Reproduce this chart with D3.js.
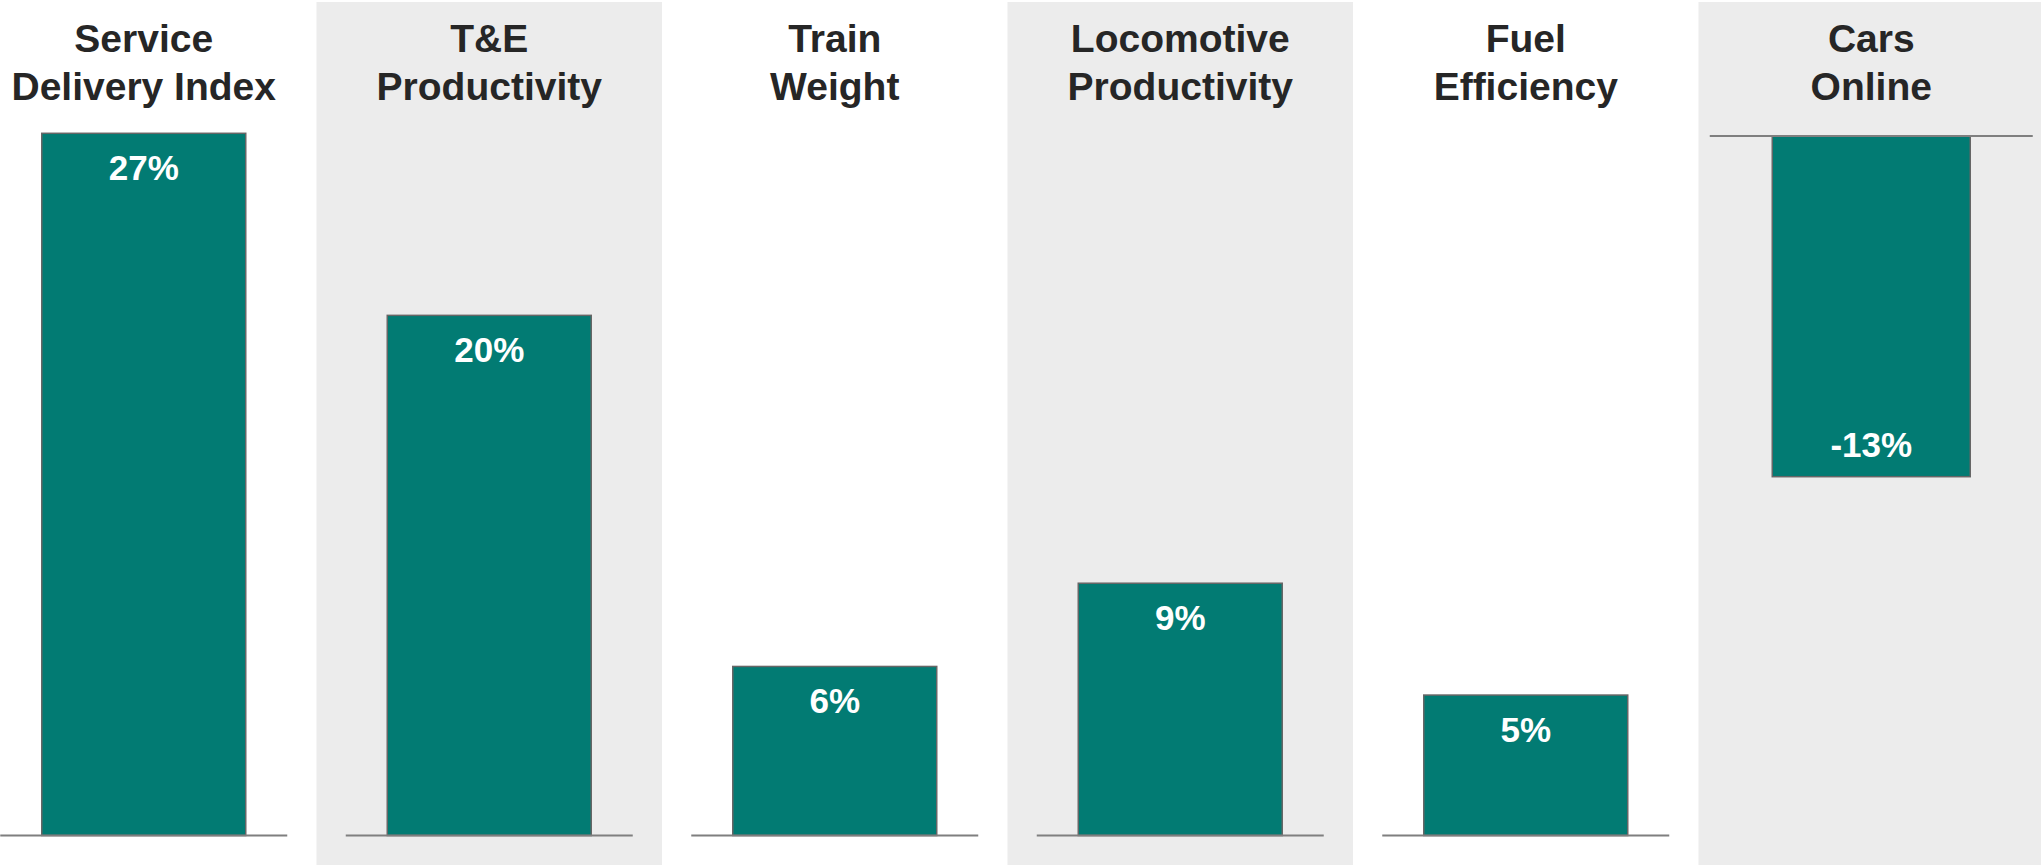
<!DOCTYPE html>
<html>
<head>
<meta charset="utf-8">
<script src="https://cdn.jsdelivr.net/npm/d3@7"></script>
<style>
  body { margin: 0; background: #fff; }
  text { font-family: "Liberation Sans", Arial, sans-serif; font-weight: bold; }
</style>
</head>
<body>
<div id="chart"></div>
<script>
const categories = ['Service Delivery Index', 'T&E Productivity', 'Train Weight',
  'Locomotive Productivity', 'Fuel Efficiency', 'Cars Online'];
const titleLines = [
  ['Service', 'Delivery Index'],
  ['T&E', 'Productivity'],
  ['Train', 'Weight'],
  ['Locomotive', 'Productivity'],
  ['Fuel', 'Efficiency'],
  ['Cars', 'Online']
];
const values = [27, 20, 6.5, 9.7, 5.4, -13.1];
const labels = ['27%', '20%', '6%', '9%', '5%', '-13%'];

const width = 2041;
const height = 865;
const teal = '#027b73';

const svg = d3.select('#chart')
  .append('svg')
  .attr('width', width)
  .attr('height', height);

// one column per metric, every other one shaded
const panelX = d3.scaleBand()
  .domain(categories)
  .range([-29, -29 + 6 * 345.5]);

// positive panels share a baseline at the bottom
const yPos = d3.scaleLinear().domain([0, 27]).range([835.5, 133.3]);
const pxPerPct = (yPos(0) - yPos(27)) / 27;
// the negative panel hangs from a line near the top
const yNeg = d3.scaleLinear().domain([0, -13.1]).range([136, 136 + 13.1 * pxPerPct]);

const panels = svg.selectAll('.panel')
  .data(categories)
  .enter()
  .append('g')
  .attr('class', 'panel')
  .attr('transform', d => `translate(${panelX(d)}, 0)`);

panels.filter((d, i) => i % 2 === 1)
  .append('rect')
  .attr('x', 0)
  .attr('y', 2)
  .attr('width', panelX.bandwidth())
  .attr('height', height - 2)
  .attr('fill', '#ececec');

const cx = panelX.bandwidth() / 2;

// titles
panels.each(function (d, i) {
  const t = d3.select(this).append('text')
    .attr('x', cx)
    .attr('text-anchor', 'middle')
    .attr('fill', '#262626')
    .style('font-size', '39px');
  titleLines[i].forEach((line, j) => {
    t.append('tspan')
      .attr('x', cx)
      .attr('y', 52 + j * 48)
      .text(line);
  });
});

panels.each(function (d, i) {
  const g = d3.select(this);
  const v = values[i];
  const neg = v < 0;
  const y = neg ? yNeg : yPos;
  const half = neg ? 161.5 : 143.5;
  const barW = neg ? 198 : 204;

  const bx = d3.scaleBand()
    .domain([d])
    .range([cx - half, cx + half])
    .paddingOuter((2 * half - barW) / (2 * barW))
    .paddingInner(0);

  g.append('rect')
    .attr('class', 'bar')
    .attr('x', bx(d))
    .attr('width', bx.bandwidth())
    .attr('y', Math.min(y(0), y(v)))
    .attr('height', Math.abs(y(v) - y(0)))
    .attr('fill', teal)
    .attr('stroke', '#666')
    .attr('stroke-width', 1.5);

  g.append('line')
    .attr('x1', cx - half)
    .attr('x2', cx + half)
    .attr('y1', y(0))
    .attr('y2', y(0))
    .attr('stroke', '#7f7f7f')
    .attr('stroke-width', 2);

  g.append('text')
    .attr('x', cx)
    .attr('y', neg ? y(v) - 19.5 : y(v) + 47)
    .attr('text-anchor', 'middle')
    .attr('fill', '#fff')
    .style('font-size', '35px')
    .text(labels[i]);
});
</script>
</body>
</html>
